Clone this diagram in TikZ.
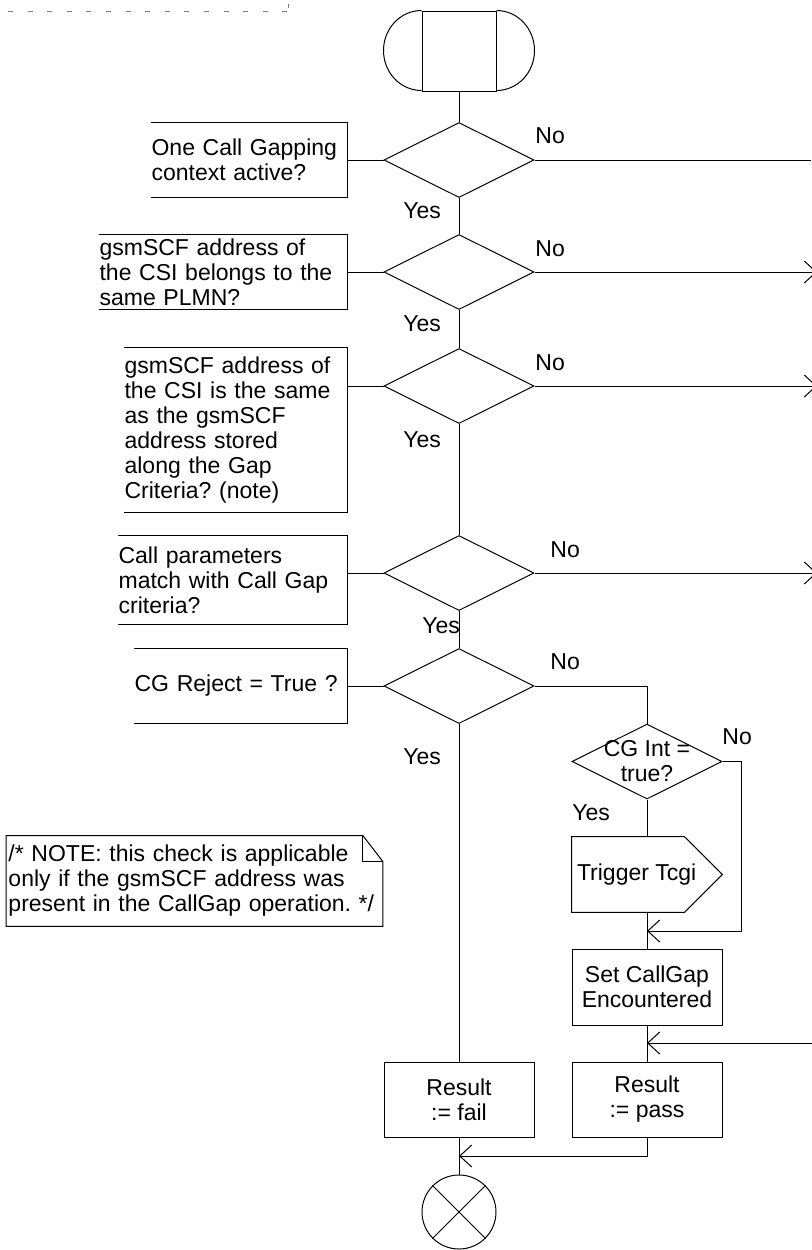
\documentclass[tikz,border=0pt]{standalone}
\usepackage{fontspec}
\setmainfont{Liberation Sans}
\frenchspacing
\usepackage{tikz}
\usetikzlibrary{arrows.meta,positioning,shapes.geometric,calc}
\tikzset{
  sdltext/.style={font=\fontsize{11.5}{12.5}\selectfont},
  sdlline/.style={draw=black, line width=0.5pt},
  sdlarrow/.style={sdlline, -{Straight Barb[length=6pt, width=11pt]}},
  sdlbox/.style={sdlline, sdltext, rectangle, align=center, minimum width=75pt, minimum height=37.5pt, inner sep=1pt},
  sdldecision/.style={sdlline, diamond, aspect=2, minimum width=75pt, minimum height=37.5pt, inner sep=0pt},
  sdlcomment/.style={sdltext, anchor=east, align=left, inner xsep=0pt, inner ysep=0pt},
  sdlnote/.style={sdltext, align=left, text width=186pt, minimum height=45pt, inner xsep=1pt, inner ysep=0pt},
  sdllabel/.style={sdltext, anchor=west, inner sep=0pt},
  sdlstart/.style={sdlline, rectangle, minimum width=37pt, minimum height=40pt, inner sep=0pt},
  sdlstop/.style={sdlline, circle, minimum size=37pt, inner sep=0pt},
  sdlsignal/.style={sdltext, minimum width=56pt, minimum height=37.5pt, inner xsep=0pt, inner ysep=0pt}
}
\begin{document}
\begin{tikzpicture}[x=0.5pt, y=-0.5pt]
  \useasboundingbox (0,0) rectangle (811,1250);

  \draw[gray, line width=0.5pt, dash pattern=on 2.5pt off 7.3pt] (8,11) -- (287,11);
  \draw[gray, line width=0.5pt] (288,4) -- (288,8);

  % start
  \node[sdlstart] (start) at (459,51) {};
  \draw[sdlline] (start.north west) arc[start angle=90, end angle=270, x radius=19pt, y radius=20pt];
  \draw[sdlline] (start.north east) arc[start angle=90, end angle=-90, x radius=19pt, y radius=20pt];

  % decisions and comments
  \node[sdldecision] (d1) at (459,160) {};
  \node[sdldecision] (d2) at (459,272) {};
  \node[sdldecision] (d3) at (459,386) {};
  \node[sdldecision] (d4) at (459,573) {};
  \node[sdldecision] (d5) at (459,686) {};

  \node[sdlcomment, text width=97.5pt, minimum height=37.5pt] (c1) at (347,160)
    {One Call Gapping\\context active?};
  \node[sdlcomment, text width=123.5pt, minimum height=37.5pt] (c2) at (347,272)
    {gsmSCF address of\\the CSI belongs to the\\same PLMN?};
  \node[sdlcomment, text width=111pt, minimum height=82.5pt] (c3) at (347,430)
    {gsmSCF address of\\the CSI is the same\\as the gsmSCF\\address stored\\along the Gap\\Criteria? (note)};
  \node[sdlcomment, text width=114pt, minimum height=44pt] (c4) at (347,580)
    {Call parameters\\match with Call Gap\\criteria?};
  \node[sdlcomment, text width=106pt, minimum height=37.5pt] (c5) at (347,686)
    {CG Reject = True ?};
  \foreach \c in {c1,c2,c3,c4,c5}
    \draw[sdlline] (\c.north west) -| (\c.south east) -- (\c.south west);

  \draw[sdlline] (c1.east) -- (d1.west);
  \draw[sdlline] (c2.east) -- (d2.west);
  \draw[sdlline] (d3.west -| c3.east) -- (d3.west);
  \draw[sdlline] (d4.west -| c4.east) -- (d4.west);
  \draw[sdlline] (c5.east) -- (d5.west);

  % right branch
  \node[sdldecision, label={[sdltext, align=center]center:CG Int =\\true?}] (cgint) at (647,761.5) {};
  \node[sdlsignal] (tcgi) at (628,874.5) {\makebox[56pt][l]{\hspace{2.5pt}Trigger Tcgi}};
  \draw[sdlline] (tcgi.north west) -- (tcgi.north east) -- ([xshift=19pt]tcgi.east)
    -- (tcgi.south east) -- (tcgi.south west) -- cycle;
  \node[sdlbox, minimum height=38pt] (set) at (647,987) {Set CallGap\\Encountered};
  \node[sdlbox] (pass) at (647,1099.5) {Result\\:= pass};
  \node[sdlbox] (fail) at (459,1099.5) {Result\\:= fail};
  \node[sdlstop] (stop) at (459,1212) {};
  \draw[sdlline] (stop.45) -- (stop.225) (stop.135) -- (stop.315);

  \node[sdlnote] (note) at (194.5,881)
    {/* NOTE: this check is applicable\\only if the gsmSCF address was\\present in the CallGap operation. */};
  \draw[sdlline] (note.north west) -- ([xshift=-10pt]note.north east) -- ([yshift=-13pt]note.north east)
    -- (note.south east) -- (note.south west) -- cycle;
  \draw[sdlline] ([xshift=-10pt]note.north east) |- ([yshift=-13pt]note.north east);

  \coordinate (out1) at (811,160);
  \coordinate (out2) at (817,272);
  \coordinate (out3) at (817,386);
  \coordinate (out4) at (817,573);
  \coordinate (in1) at (820,1043);
  \coordinate (j1) at (647,931);
  \coordinate (j2) at (647,1043);
  \coordinate (j3) at (459,1156);

  \draw[sdlline] (start) -- (d1);
  \draw[sdlline] (d1) -- (d2);
  \draw[sdlline] (d2) -- (d3);
  \draw[sdlline] (d3) -- (d4);
  \draw[sdlline] (d4) -- (d5);
  \draw[sdlline] (d5) -- (fail);
  \draw[sdlline] (d1.east) -- (out1);
  \draw[sdlarrow] (d2.east) -- (out2);
  \draw[sdlarrow] (d3.east) -- (out3);
  \draw[sdlarrow] (d4.east) -- (out4);
  \draw[sdlline] (d5.east) -| (cgint.north);
  \draw[sdlline] (cgint.south) -- (cgint.south |- tcgi.north);
  \draw[sdlline] (set.north |- tcgi.south) -- (set.north);
  \draw[sdlarrow] (cgint.east) -- ++(19,0) |- (j1);
  \draw[sdlline] (set) -- (pass);
  \draw[sdlarrow] (in1) -- (j2);
  \draw[sdlarrow] (pass.south) |- (j3);
  \draw[sdlline] (fail) -- (stop);

  % branch labels
  \node[sdllabel] (no1) at (535,136) {No};
  \node[sdllabel] (no2) at (535,249) {No};
  \node[sdllabel] (no3) at (535,363) {No};
  \node[sdllabel] (no4) at (550,550) {No};
  \node[sdllabel] (no5) at (550,662) {No};
  \node[sdllabel] (no6) at (722,737) {No};
  \node[sdllabel] (yes1) at (403,211) {Yes};
  \node[sdllabel] (yes2) at (403,324) {Yes};
  \node[sdllabel] (yes3) at (403,440) {Yes};
  \node[sdllabel] (yes4) at (422,626) {Yes};
  \node[sdllabel] (yes5) at (403,757) {Yes};
  \node[sdllabel] (yes6) at (572,813) {Yes};
\end{tikzpicture}
\end{document}
